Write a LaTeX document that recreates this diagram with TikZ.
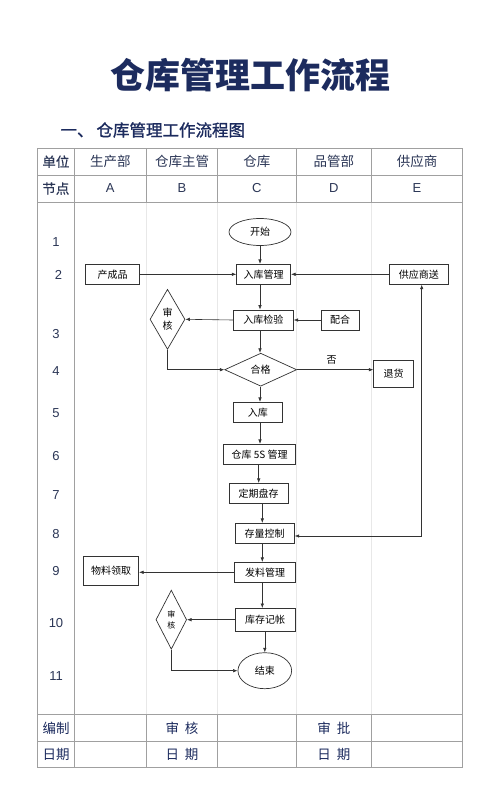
\documentclass[tikz,border=0pt]{standalone}
\usepackage{fontspec}
\setmainfont{Noto Sans CJK SC}
\newfontfamily\medfont[FakeBold=1.2]{Noto Sans CJK SC}
\newfontfamily\semfont[FakeBold=0.6]{Noto Sans CJK SC}
\newfontfamily\numfont{Liberation Sans}
\usetikzlibrary{shapes.geometric,arrows.meta,calc}
\definecolor{navy}{HTML}{1C2B5E}
\definecolor{hdr}{HTML}{2B3656}
\definecolor{grid}{HTML}{A0A0A0}
\definecolor{faint}{HTML}{E8E8E8}
\definecolor{ink}{HTML}{333333}
\begin{document}
\begin{tikzpicture}[x=1pt,y=-1pt,
  box/.style={draw=ink,line width=0.7pt,rectangle,inner sep=0pt,minimum height=20pt,font=\fontsize{10}{11}\selectfont,text=black},
  oval/.style={draw=ink,line width=0.7pt,ellipse,inner sep=0pt,font=\fontsize{10}{11}\selectfont,text=black},
  dia/.style={draw=ink,line width=0.7pt,diamond,inner sep=0pt,align=center,font=\fontsize{10}{13}\selectfont,text=black},
  arr/.style={draw=ink,line width=0.6pt,-{Latex[length=4.5pt,width=3.5pt]}},
  arrb/.style={draw=ink,line width=0.6pt,{Latex[length=4.5pt,width=3.5pt]}-{Latex[length=4.5pt,width=3.5pt]}},
  hd/.style={text=hdr,font=\fontsize{13.5}{14}\selectfont},
  hdb/.style={text=hdr,font=\semfont\fontsize{13.5}{14}\selectfont},
  num/.style={text=hdr,font=\numfont\fontsize{13}{14}\selectfont},
  gl/.style={draw=grid,line width=0.8pt},
  fl/.style={draw=faint,line width=0.8pt}]
\useasboundingbox (0,0) rectangle (500,800);
\fill[white] (0,0) rectangle (500,800);
% titles
\node[text=navy,font=\bfseries\fontsize{35}{36}\selectfont] (title) at (250,75) {仓库管理工作流程};
\node[text=navy,font=\medfont\fontsize{16.5}{17}\selectfont,anchor=west] (sub) at (57,130) {一、\hspace{3pt}仓库管理工作流程图};
% table grid
\draw[fl] (146.5,202) -- (146.5,714.7) (217.7,202) -- (217.7,714.7) (296,202) -- (296,714.7) (371.7,202) -- (371.7,714.7);
\foreach \x in {146.5,217.7,296,371.7} {
  \draw[gl] (\x,148.3) -- (\x,202);
  \draw[gl] (\x,714.7) -- (\x,767.7);
}
\draw[gl] (74,148.3) -- (74,767.7);
\draw[gl] (37.7,175) -- (462.3,175) (37.7,202) -- (462.3,202) (37.7,714.7) -- (462.3,714.7) (37.7,741.7) -- (462.3,741.7);
\draw[gl,line width=1pt] (37.7,148.3) rectangle (462.3,767.7);
% header texts
\node[hdb] (h0) at (55.9,161.7) {单位};
\node[hd] (h1) at (110.3,161.7) {生产部};
\node[hd] (h2) at (182,161.7) {仓库主管};
\node[hd] (h3) at (256.9,161.7) {仓库};
\node[hd] (h4) at (333.9,161.7) {品管部};
\node[hd] (h5) at (417,161.7) {供应商};
\node[hdb] (k0) at (55.9,188.5) {节点};
\node[num] (k1) at (110.3,188.5) {A};
\node[num] (k2) at (182,188.5) {B};
\node[num] (k3) at (256.9,188.5) {C};
\node[num] (k4) at (333.9,188.5) {D};
\node[num] (k5) at (417,188.5) {E};
% row numbers
\node[num] (r1) at (56,242) {1};
\node[num] (r2) at (58.5,275) {2};
\node[num] (r3) at (56,334) {3};
\node[num] (r4) at (56,371) {4};
\node[num] (r5) at (56,413) {5};
\node[num] (r6) at (56,456) {6};
\node[num] (r7) at (56,495) {7};
\node[num] (r8) at (56,534) {8};
\node[num] (r9) at (56,571) {9};
\node[num] (r10) at (56,623) {10};
\node[num] (r11) at (56,676) {11};
% bottom rows
\node[hd,text=navy] (b1) at (56,728.2) {编制};
\node[hd,text=navy] (b2) at (182,728.2) {审\hspace{6pt}核};
\node[hd,text=navy] (b3) at (333.9,728.2) {审\hspace{6pt}批};
\node[hd,text=navy] (b4) at (56,754.7) {日期};
\node[hd,text=navy] (b5) at (182,754.7) {日\hspace{6pt}期};
\node[hd,text=navy] (b6) at (333.9,754.7) {日\hspace{6pt}期};
% flow nodes
\node[oval,minimum width=62pt,minimum height=27pt] (start) at (260,232) {开始};
\node[box,minimum width=54pt] (m1) at (263.7,274.3) {入库管理};
\node[box,minimum width=53.6pt] (p) at (112.5,274.3) {产成品};
\node[box,minimum width=59.7pt] (s) at (418.8,274.3) {供应商送};
\node[dia,minimum width=35pt,minimum height=60pt] (d1) at (167.5,319.3) {审\\核};
\node[box,minimum width=60pt] (m2) at (263.3,320) {入库检验};
\node[box,minimum width=38pt] (pe) at (340,320) {配合};
\node[dia,minimum width=72pt,minimum height=33pt] (d2) at (260.7,369.7) {合格};
\node[box,minimum width=40pt,minimum height=27.7pt] (r) at (393.7,373.8) {退货};
\node[box,minimum width=49pt] (n5) at (257.8,412.3) {入库};
\node[box,minimum width=72pt] (n6) at (259.7,454.3) {仓库 5S 管理};
\node[box,minimum width=59.3pt] (n7) at (258.7,493.3) {定期盘存};
\node[box,minimum width=59.3pt] (n8) at (264.7,533.3) {存量控制};
\node[box,minimum width=55pt,minimum height=29pt] (w) at (111.2,571.2) {物料领取};
\node[box,minimum width=61.4pt] (n9) at (265,572.3) {发料管理};
\node[box,minimum width=60.3pt,minimum height=22.7pt] (n10) at (265.2,619.7) {库存记帐};
\node[dia,minimum width=30.7pt,minimum height=59pt,font=\fontsize{8}{11}\selectfont] (d3) at (171.3,619.7) {审\\核};
\node[oval,minimum width=53.7pt,minimum height=36pt] (end) at (264.8,670.7) {结束};
\node[font=\fontsize{10}{11}\selectfont,text=black] (no) at (331.7,360) {否};
\coordinate (sup) at (421.7,536);
\coordinate (c1) at (260,0);
\coordinate (c2) at (262.3,0);
% connectors
\draw[arr] (start.south) -- (start.south |- m1.north);
\draw[arr] (p.east) -- (m1.west);
\draw[arr] (s.west) -- (m1.east);
\draw[arr] (m1.south -| c1) -- (m2.north -| c1);
\draw[arr] (m2.west) -- (d1.east);
\draw[arr] (pe.west) -- (m2.east);
\draw[arr] (m2.south -| c1) -- (d2.north -| c1);
\draw[arr] (d1.south) |- (d2.west);
\draw[arr] (d2.east) -- (d2.east -| r.west);
\draw[arr] (d2.south -| c1) -- (n5.north -| c1);
\draw[arr] (n5.south -| c1) -- (n6.north -| c1);
\draw[arr] (n6.south -| n7) -- (n7.north -| n7);
\draw[arr] (n7.south -| c2) -- (n8.north -| c2);
\draw[arr] (n8.south -| c2) -- (n9.north -| c2);
\draw[arrb] (s.south -| sup) -- (sup) -- (sup -| n8.east);
\draw[arr] (n9.west) -- (w.east |- n9.west);
\draw[arr] (n9.south -| c2) -- (n10.north -| c2);
\draw[arr] (n10.west) -- (d3.east);
\draw[arr] (n10.south -| end) -- (end.north);
\draw[arr] (d3.south) |- (end.west);
\end{tikzpicture}
\end{document}
